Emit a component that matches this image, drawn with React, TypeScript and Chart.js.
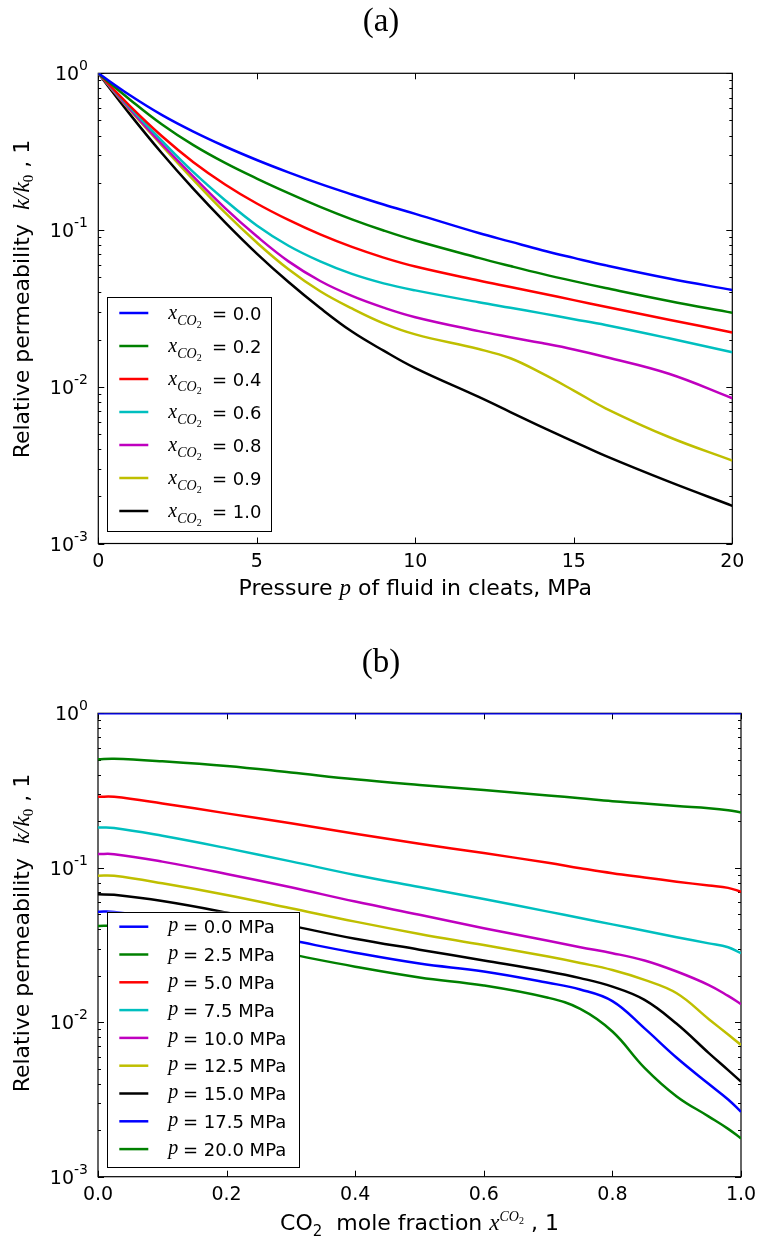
import React, { useEffect, useRef } from "react";
import { Chart, registerables } from "chart.js";

Chart.register(...registerables);

// ---------------- data ----------------
// Panel (a): relative permeability vs pressure for several CO2 fractions
const PRESSURE_MPA = [0, 1, 2, 3, 4, 5, 6, 7, 8, 9, 10, 12, 13, 14, 15, 16, 18, 20];
const K_X00 = [1, 0.724, 0.543, 0.4246, 0.3412, 0.2799, 0.2334, 0.197, 0.1687, 0.1455, 0.1268, 0.0957, 0.0843, 0.0743, 0.0664, 0.0596, 0.0491, 0.0414];
const K_X02 = [1, 0.679, 0.473, 0.348, 0.268, 0.213, 0.172, 0.1406, 0.117, 0.0993, 0.0857, 0.0664, 0.0589, 0.0525, 0.0472, 0.0427, 0.0353, 0.0297];
const K_X04 = [1, 0.617, 0.398, 0.271, 0.1954, 0.1476, 0.1159, 0.0937, 0.078, 0.0667, 0.0585, 0.0476, 0.0433, 0.0394, 0.0357, 0.0324, 0.0268, 0.0222];
const K_X06 = [1, 0.603, 0.372, 0.234, 0.155, 0.107, 0.0794, 0.0631, 0.0525, 0.0457, 0.0412, 0.0346, 0.0319, 0.0294, 0.027, 0.0248, 0.0204, 0.0166];
const K_X08 = [1, 0.589, 0.355, 0.219, 0.138, 0.0912, 0.0631, 0.0473, 0.038, 0.032, 0.0278, 0.02265, 0.0207, 0.019, 0.0173, 0.01549, 0.0121, 0.00845];
const K_X09 = [1, 0.582, 0.347, 0.209, 0.129, 0.0832, 0.0562, 0.0407, 0.0316, 0.0254, 0.0216, 0.0174, 0.0152, 0.01216, 0.00946, 0.00729, 0.00478, 0.00338];
const K_X10 = [1, 0.547, 0.31, 0.183, 0.112, 0.0708, 0.0466, 0.0318, 0.0225, 0.017, 0.01315, 0.00861, 0.0069, 0.00553, 0.00447, 0.00362, 0.00248, 0.00174];
const X_CO2_LABELS = ["0.0", "0.2", "0.4", "0.6", "0.8", "0.9", "1.0"];

// Panel (b): relative permeability vs CO2 mole fraction for several pressures
const CO2_FRACTION = [0, 0.025, 0.1, 0.2, 0.3, 0.4, 0.5, 0.6, 0.7, 0.75, 0.8, 0.85, 0.9, 0.95, 0.98, 1.0];
const K_P000 = [1, 1, 1, 1, 1, 1, 1, 1, 1, 1, 1, 1, 1, 1, 1, 1];
const K_P025 = [0.504, 0.508, 0.489, 0.456, 0.414, 0.374, 0.344, 0.319, 0.294, 0.282, 0.27, 0.261, 0.251, 0.243, 0.236, 0.228];
const K_P050 = [0.288, 0.288, 0.261, 0.225, 0.194, 0.166, 0.143, 0.1245, 0.1076, 0.0993, 0.0921, 0.0865, 0.0813, 0.0767, 0.0741, 0.07];
const K_P075 = [0.182, 0.181, 0.161, 0.134, 0.11, 0.0898, 0.075, 0.0628, 0.052, 0.0473, 0.043, 0.0391, 0.0355, 0.0324, 0.0306, 0.028];
const K_P100 = [0.1227, 0.1225, 0.1096, 0.0912, 0.0748, 0.0604, 0.0496, 0.0406, 0.0337, 0.0306, 0.028, 0.0251, 0.0213, 0.0174, 0.0148, 0.0131];
const K_P125 = [0.0889, 0.0887, 0.0794, 0.0667, 0.0547, 0.0448, 0.0373, 0.0316, 0.0266, 0.0242, 0.0218, 0.0188, 0.0154, 0.01047, 0.00832, 0.00713];
const K_P150 = [0.0673, 0.0668, 0.0609, 0.0513, 0.0422, 0.0347, 0.0295, 0.0251, 0.0213, 0.0193, 0.017, 0.01396, 0.00977, 0.00631, 0.0049, 0.00413];
const K_P175 = [0.052, 0.0518, 0.0468, 0.0407, 0.0339, 0.0282, 0.024, 0.0213, 0.018, 0.0163, 0.0137, 0.00912, 0.00589, 0.00398, 0.00316, 0.00263];
const K_P200 = [0.042, 0.0419, 0.038, 0.0331, 0.0275, 0.0229, 0.0195, 0.0173, 0.0144, 0.0122, 0.00871, 0.00507, 0.00331, 0.00245, 0.00204, 0.00177];
const P_LABELS = ["0.0", "2.5", "5.0", "7.5", "10.0", "12.5", "15.0", "17.5", "20.0"];

// axis ticks
const X_TICKS_A = [0, 5, 10, 15, 20];
const X_TICK_LABELS_A = ["0", "5", "10", "15", "20"];
const X_TICKS_B = [0, 0.2, 0.4, 0.6, 0.8, 1.0];
const X_TICK_LABELS_B = ["0.0", "0.2", "0.4", "0.6", "0.8", "1.0"];
const Y_DECADES = [1, 0.1, 0.01, 0.001];
const Y_DECADE_EXPONENTS = ["0", "-1", "-2", "-3"];

// ---------------- styling ----------------
const COLORS_A = ["#0000ff", "#008000", "#ff0000", "#00bfbf", "#bf00bf", "#bfbf00", "#000000"];
const COLORS_B = ["#0000ff", "#008000", "#ff0000", "#00bfbf", "#bf00bf", "#bfbf00", "#000000", "#0000ff", "#008000"];

const SANS = '"DejaVu Sans", "Noto Sans", sans-serif';
const SERIF = '"Liberation Serif", "DejaVu Serif", serif';
const sans = (s: number) => `${s}px ${SANS}`;
const ital = (s: number) => `italic ${s}px ${SERIF}`;
const roman = (s: number) => `${s}px ${SERIF}`;

type Run = { t: string; font: string; dy?: number; x?: number };

function drawRuns(ctx: CanvasRenderingContext2D, runs: Run[], x: number, y: number, align: "left" | "center" | "right") {
  const widths = runs.map((r) => {
    ctx.font = r.font;
    return ctx.measureText(r.t).width;
  });
  const total = widths.reduce((a, b) => a + b, 0);
  let cx = align === "center" ? x - total / 2 : align === "right" ? x - total : x;
  ctx.textAlign = "left";
  ctx.textBaseline = "alphabetic";
  runs.forEach((r, i) => {
    if (r.x !== undefined) cx = r.x;
    ctx.font = r.font;
    ctx.fillText(r.t, cx, y + (r.dy ?? 0));
    cx += widths[i];
  });
}

interface PanelSpec {
  title: string;
  titleBaseline: number;
  padding: { left: number; right: number; top: number; bottom: number };
  xMin: number;
  xMax: number;
  xValues: number[];
  series: number[][];
  colors: string[];
  labels: string[];
  xTicks: number[];
  xTickLabels: string[];
  xTickBaseline: number;
  xTitle: Run[];
  xTitleBaseline: number;
  yTitleCenter: number;
  legend: { x0: number; y0: number; x1: number; y1: number; row0: number; step: number; runs: (i: number) => Run[] };
}

const TICK_MAJOR = 6;
const TICK_MINOR = 3;

function decorPlugin(spec: PanelSpec) {
  return {
    id: "decor",
    beforeDatasetsDraw(chart: any) {
      const { ctx, chartArea: a, scales } = chart;
      const xs = scales.x;
      const ys = scales.y;
      ctx.save();
      ctx.strokeStyle = "#000";
      ctx.lineWidth = 1;
      ctx.beginPath();
      for (const v of spec.xTicks) {
        const px = Math.round(xs.getPixelForValue(v)) + 0.5;
        ctx.moveTo(px, a.top);
        ctx.lineTo(px, a.top + TICK_MAJOR);
        ctx.moveTo(px, a.bottom);
        ctx.lineTo(px, a.bottom - TICK_MAJOR);
      }
      for (const d of Y_DECADES) {
        for (let m = 1; m < 10; m++) {
          const v = d * m;
          if (v > 1.0001) break;
          const len = m === 1 ? TICK_MAJOR : TICK_MINOR;
          const py = Math.round(ys.getPixelForValue(v)) + 0.5;
          ctx.moveTo(a.left, py);
          ctx.lineTo(a.left + len, py);
          ctx.moveTo(a.right, py);
          ctx.lineTo(a.right - len, py);
        }
      }
      ctx.stroke();
      ctx.lineWidth = 1.2;
      ctx.strokeRect(a.left, a.top, a.right - a.left, a.bottom - a.top);
      ctx.restore();
    },
    afterDatasetsDraw(chart: any) {
      const { ctx, chartArea: a, scales } = chart;
      const xs = scales.x;
      const ys = scales.y;
      ctx.save();
      ctx.fillStyle = "#000";

      // title
      drawRuns(ctx, [{ t: spec.title, font: roman(33) }], 381, spec.titleBaseline, "center");

      // x tick labels
      spec.xTicks.forEach((v, i) => {
        drawRuns(ctx, [{ t: spec.xTickLabels[i], font: sans(19) }], xs.getPixelForValue(v), spec.xTickBaseline, "center");
      });

      // y tick labels
      Y_DECADES.forEach((v, i) => {
        const py = ys.getPixelForValue(v);
        drawRuns(
          ctx,
          [
            { t: "10", font: sans(19), dy: 7 },
            { t: Y_DECADE_EXPONENTS[i], font: sans(14), dy: -3 },
          ],
          88,
          py,
          "right"
        );
      });

      // x title
      drawRuns(ctx, spec.xTitle, (a.left + a.right) / 2, spec.xTitleBaseline, "center");

      // y title (rotated)
      ctx.save();
      ctx.translate(29, spec.yTitleCenter);
      ctx.rotate(-Math.PI / 2);
      drawRuns(
        ctx,
        [
          { t: "Relative permeability  ", font: sans(22) },
          { t: "k/k", font: ital(24) },
          { t: "0", font: roman(15), dy: 4 },
          { t: " , 1", font: sans(22) },
        ],
        0,
        0,
        "center"
      );
      ctx.restore();

      // legend
      const L = spec.legend;
      ctx.fillStyle = "#fff";
      ctx.fillRect(L.x0, L.y0, L.x1 - L.x0, L.y1 - L.y0);
      ctx.strokeStyle = "#000";
      ctx.lineWidth = 1;
      ctx.strokeRect(Math.round(L.x0) + 0.5, Math.round(L.y0) + 0.5, Math.round(L.x1 - L.x0), Math.round(L.y1 - L.y0));
      chart.data.datasets.forEach((ds: any, i: number) => {
        const ry = L.row0 + i * L.step;
        ctx.strokeStyle = ds.borderColor;
        ctx.lineWidth = 2.5;
        ctx.beginPath();
        ctx.moveTo(119.3, ry);
        ctx.lineTo(148.3, ry);
        ctx.stroke();
        ctx.fillStyle = "#000";
        drawRuns(ctx, L.runs(i), 168.3, ry, "left");
      });
      ctx.restore();
    },
  };
}

const SPEC_A: PanelSpec = {
  title: "(a)",
  titleBaseline: 31,
  padding: { left: 98.3, right: 29.7, top: 73.3, bottom: 77.5 },
  xMin: 0,
  xMax: 20,
  xValues: PRESSURE_MPA,
  series: [K_X00, K_X02, K_X04, K_X06, K_X08, K_X09, K_X10],
  colors: COLORS_A,
  labels: X_CO2_LABELS.map((v) => `x_CO2 = ${v}`),
  xTicks: X_TICKS_A,
  xTickLabels: X_TICK_LABELS_A,
  xTickBaseline: 567,
  xTitle: [
    { t: "Pressure ", font: sans(22) },
    { t: "p", font: ital(23) },
    { t: " of fluid in cleats, MPa", font: sans(22) },
  ],
  xTitleBaseline: 595,
  yTitleCenter: 299,
  legend: {
    x0: 107.3,
    y0: 297.3,
    x1: 271.7,
    y1: 531,
    row0: 313,
    step: 33,
    runs: (i) => [
      { t: "x", font: ital(20), dy: 6 },
      { t: "CO", font: ital(14), dy: 11.5 },
      { t: "2", font: roman(10), dy: 14.5 },
      { t: `= ${X_CO2_LABELS[i]}`, font: sans(18), dy: 6.6, x: 212 },
    ],
  },
};

const SPEC_B: PanelSpec = {
  title: "(b)",
  titleBaseline: 51,
  padding: { left: 98, right: 21, top: 92.3, bottom: 65.3 },
  xMin: 0,
  xMax: 1,
  xValues: CO2_FRACTION,
  series: [K_P000, K_P025, K_P050, K_P075, K_P100, K_P125, K_P150, K_P175, K_P200],
  colors: COLORS_B,
  labels: P_LABELS.map((v) => `p = ${v} MPa`),
  xTicks: X_TICKS_B,
  xTickLabels: X_TICK_LABELS_B,
  xTickBaseline: 579,
  xTitle: [
    { t: "CO", font: sans(22) },
    { t: "2", font: sans(15), dy: 6 },
    { t: "  mole fraction ", font: sans(22) },
    { t: "x", font: ital(23) },
    { t: "CO", font: ital(14), dy: -9 },
    { t: "2", font: roman(10), dy: -6 },
    { t: " , 1", font: sans(22) },
  ],
  xTitleBaseline: 609,
  yTitleCenter: 312,
  legend: {
    x0: 107.3,
    y0: 290.7,
    x1: 299.3,
    y1: 545.7,
    row0: 305.7,
    step: 27.8,
    runs: (i) => [
      { t: "p", font: ital(20), dy: 4.5 },
      { t: `= ${P_LABELS[i]} MPa`, font: sans(18), dy: 6.6, x: 183 },
    ],
  },
};

function Panel({ spec }: { spec: PanelSpec }) {
  const ref = useRef<HTMLCanvasElement>(null);
  useEffect(() => {
    const canvas = ref.current;
    if (!canvas) return;
    const datasets = spec.series.map((vals, i) => ({
      label: spec.labels[i],
      data: vals.map((v, j) => ({ x: spec.xValues[j], y: v })),
      borderColor: spec.colors[i],
      backgroundColor: spec.colors[i],
      borderWidth: 2.5,
      pointRadius: 0,
      fill: false,
      tension: 0.4,
    }));
    const chart = new Chart(canvas, {
      type: "line",
      data: { datasets },
      options: {
        animation: false,
        responsive: false,
        maintainAspectRatio: false,
        events: [],
        layout: { padding: spec.padding },
        scales: {
          x: { type: "linear", min: spec.xMin, max: spec.xMax, display: false },
          y: { type: "logarithmic", min: 0.001, max: 1, display: false },
        },
        plugins: {
          legend: { display: false },
          tooltip: { enabled: false },
          title: { display: false },
        },
      },
      plugins: [decorPlugin(spec)],
    } as any);
    return () => chart.destroy();
  }, [spec]);
  return <canvas ref={ref} width={762} height={621} style={{ display: "block", width: 762, height: 621 }} />;
}

export default function App() {
  useEffect(() => {
    document.body.style.margin = "0";
    document.body.style.background = "#fff";
  }, []);
  return (
    <div style={{ width: 762, height: 1242, background: "#fff" }}>
      <Panel spec={SPEC_A} />
      <Panel spec={SPEC_B} />
    </div>
  );
}
